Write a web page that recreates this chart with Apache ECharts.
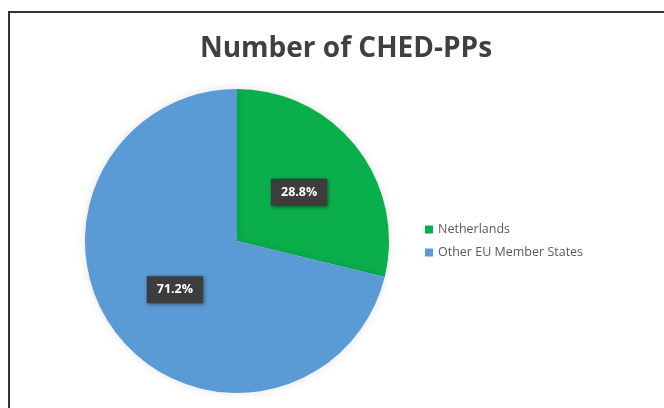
<!DOCTYPE html>
<html><head><meta charset="utf-8">
<script src="https://cdn.jsdelivr.net/npm/echarts@6/dist/echarts.min.js"></script>
<style>html,body{margin:0;padding:0;background:#fff}#c{width:664px;height:408px}</style>
</head><body><div id="c"></div>
<script>
const titleText = 'Number of CHED-PPs';
const categories = ['Netherlands', 'Other EU Member States'];
const values = [28.8, 71.2];
const colors = ['#0AAF4C', '#5B9BD5'];

const chart = echarts.init(document.getElementById('c'), null, {renderer: 'canvas'});
chart.setOption({
  backgroundColor: '#ffffff',
  animation: false,
  title: {
    text: titleText,
    left: 341, top: 30, textAlign: 'center',
    textStyle: {fontFamily: 'Open Sans', fontWeight: 'bold', fontSize: 28, color: '#404040'}
  },
  legend: {
    orient: 'vertical', left: 420, top: 218,
    itemWidth: 8, itemHeight: 8, itemGap: 10,
    icon: 'rect',
    textStyle: {fontFamily: 'Open Sans', fontSize: 12.5, color: '#595959'},
    data: categories
  },
  graphic: [{
    type: 'rect', shape: {x: 9, y: 12, width: 700, height: 450},
    style: {fill: 'none', stroke: '#333', lineWidth: 2}, silent: true
  }],
  series: [{
    type: 'pie',
    center: [237, 241], radius: [0, 152],
    startAngle: 90, clockwise: true,
    color: colors,
    itemStyle: {shadowBlur: 10, shadowColor: 'rgba(0,0,0,0.12)'},
    label: {
      position: 'inside',
      formatter: p => p.value.toFixed(1) + '%',
      fontFamily: 'Open Sans', fontWeight: 'bold', fontSize: 12.5, color: '#fff',
      backgroundColor: '#3d3d3d', padding: [7, 10],
      shadowBlur: 4, shadowColor: 'rgba(0,0,0,0.5)', shadowOffsetX: 1, shadowOffsetY: 1
    },
    labelLine: {show: false},
    data: categories.map((n, i) => ({name: n, value: values[i]}))
  }]
});
</script></body></html>
